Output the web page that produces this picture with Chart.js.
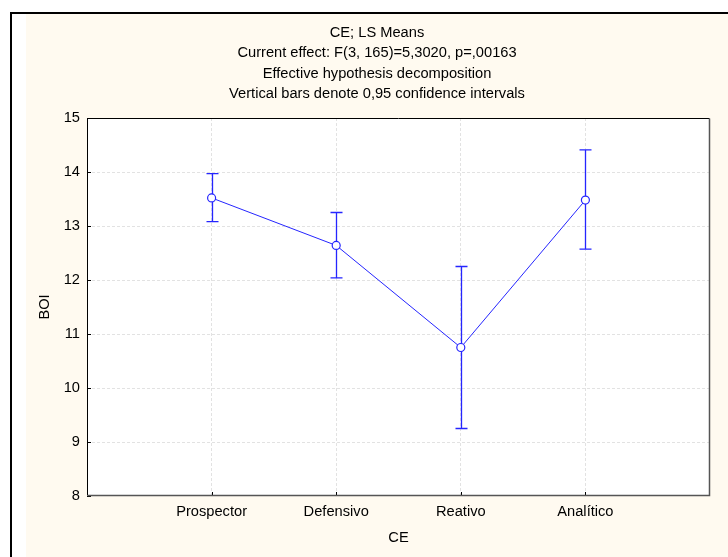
<!DOCTYPE html>
<html>
<head>
<meta charset="utf-8">
<script src="https://cdn.jsdelivr.net/npm/chart.js@4.4.1/dist/chart.umd.min.js"></script>
<style>
html,body{margin:0;padding:0;background:#fff;}
canvas{display:block;}
</style>
</head>
<body>
<canvas id="c" width="728" height="557"></canvas>
<script>
// ---- data ----
const titleLines = [
  'CE; LS Means',
  'Current effect: F(3, 165)=5,3020, p=,00163',
  'Effective hypothesis decomposition',
  'Vertical bars denote 0,95 confidence intervals'
];
const categories = ['Prospector', 'Defensivo', 'Reativo', 'Analítico'];
const means = [13.52, 12.64, 10.75, 13.48];
const lower = [13.08, 12.04, 9.25, 12.57];
const upper = [13.97, 13.25, 12.25, 14.41];
const yTicks = [8, 9, 10, 11, 12, 13, 14, 15];
const xTitle = 'CE';
const yTitle = 'BOI';

const FONT = 'Liberation Sans, Arial, sans-serif';
const FS = 14.67;
const BLUE = '#2525ff';
const CREAM = '#fffaf0';

const bgPlugin = {
  id: 'bg',
  beforeDraw(chart) {
    const ctx = chart.ctx;
    const W = chart.width, H = chart.height;
    ctx.save();
    ctx.fillStyle = '#ffffff';
    ctx.fillRect(0, 0, W, H);
    ctx.fillStyle = '#000000';
    ctx.fillRect(10, 12, 2, H - 12);
    ctx.fillRect(10, 12, W - 10, 2);
    ctx.fillStyle = CREAM;
    ctx.fillRect(26, 14, W - 26, H - 14);
    const a = chart.chartArea;
    ctx.fillStyle = '#ffffff';
    ctx.fillRect(a.left, a.top, a.right - a.left, a.bottom - a.top);
    ctx.restore();
  },
  beforeDatasetsDraw(chart) {
    // error bars
    const ctx = chart.ctx;
    const xs = chart.scales.x, ys = chart.scales.y;
    ctx.save();
    ctx.strokeStyle = BLUE;
    ctx.lineWidth = 1.3;
    for (let i = 0; i < categories.length; i++) {
      const px = Math.round(xs.getPixelForValue(i + 1)) + 0.5;
      const pl = ys.getPixelForValue(lower[i]);
      const pu = ys.getPixelForValue(upper[i]);
      ctx.beginPath();
      ctx.moveTo(px, pl); ctx.lineTo(px, pu);
      ctx.moveTo(px - 6, pl); ctx.lineTo(px + 6, pl);
      ctx.moveTo(px - 6, pu); ctx.lineTo(px + 6, pu);
      ctx.stroke();
    }
    ctx.restore();
  },
  afterDraw(chart) {
    const ctx = chart.ctx;
    const a = chart.chartArea;
    const xs = chart.scales.x, ys = chart.scales.y;
    ctx.save();
    // inward ticks
    ctx.strokeStyle = '#000';
    ctx.lineWidth = 1;
    ctx.beginPath();
    yTicks.forEach(v => {
      const py = Math.round(ys.getPixelForValue(v)) + 0.5;
      ctx.moveTo(a.left, py); ctx.lineTo(a.left + 4, py);
    });
    for (let i = 0; i < categories.length; i++) {
      const px = Math.round(xs.getPixelForValue(i + 1)) + 0.5;
      ctx.moveTo(px, a.bottom); ctx.lineTo(px, a.bottom - 4);
    }
    ctx.stroke();
    // frame
    const l = Math.round(a.left) + 0.5, t = Math.round(a.top) + 0.5;
    const r = Math.round(a.right) - 0.5, b = Math.round(a.bottom) - 0.5;
    ctx.strokeStyle = '#000';
    ctx.beginPath();
    ctx.moveTo(l, b); ctx.lineTo(l, t); ctx.lineTo(r, t);
    ctx.stroke();
    ctx.strokeStyle = '#555';
    ctx.lineWidth = 1.5;
    ctx.beginPath();
    ctx.moveTo(r, t); ctx.lineTo(r, b); ctx.lineTo(l, b);
    ctx.stroke();
    ctx.restore();
  }
};

const gridOpts = {
  color: (c) => (c.tick && (c.tick.value === 0 || c.tick.value === 5 || c.tick.value === 8 || c.tick.value === 15)) ? 'rgba(0,0,0,0)' : '#e2e2e2',
  lineWidth: 1,
  drawTicks: false
};

new Chart(document.getElementById('c'), {
  type: 'line',
  data: {
    datasets: [{
      data: means.map((v, i) => ({ x: i + 1, y: v })),
      borderColor: BLUE,
      borderWidth: 1,
      pointRadius: 4,
      pointBackgroundColor: '#ffffff',
      pointBorderColor: BLUE,
      pointBorderWidth: 1.2,
      tension: 0,
      fill: false
    }]
  },
  options: {
    responsive: false,
    animation: false,
    devicePixelRatio: 1,
    layout: { padding: { left: 26, top: 0, right: 0, bottom: 0 } },
    plugins: {
      legend: { display: false },
      tooltip: { enabled: false },
      title: {
        display: true,
        text: titleLines,
        color: '#000',
        font: { family: FONT, size: FS, weight: 'normal', lineHeight: 20.3 / FS },
        padding: { top: 22.85, bottom: 13.95 }
      }
    },
    scales: {
      x: {
        type: 'linear',
        min: 0, max: 5,
        border: { display: false, dash: [3, 2] },
        grid: gridOpts,
        ticks: {
          stepSize: 1,
          autoSkip: false,
          maxRotation: 0,
          padding: 7,
          color: '#000',
          font: { family: FONT, size: FS },
          callback: (v) => (v >= 1 && v <= categories.length) ? categories[v - 1] : ''
        },
        title: {
          display: true, text: xTitle, color: '#000',
          font: { family: FONT, size: FS },
          padding: { top: 0, bottom: 10.2 }
        },
        afterFit: (s) => { s.height = 61; }
      },
      y: {
        type: 'linear',
        position: 'left',
        min: 8, max: 15,
        border: { display: false, dash: [3, 2] },
        grid: gridOpts,
        ticks: {
          stepSize: 1,
          padding: 7,
          color: '#000',
          font: { family: FONT, size: FS },
          callback: (v) => yTicks.includes(v) ? String(v) : ''
        },
        title: {
          display: true, text: yTitle, color: '#000',
          font: { family: FONT, size: FS },
          padding: { top: 10.2, bottom: 0 }
        },
        afterFit: (s) => { s.width = 61; }
      },
      yR: {
        type: 'linear',
        position: 'right',
        display: true,
        border: { display: false },
        grid: { display: false, drawTicks: false },
        ticks: { display: false },
        afterFit: (s) => { s.width = 18; }
      }
    }
  },
  plugins: [bgPlugin]
});
</script>
</body>
</html>
